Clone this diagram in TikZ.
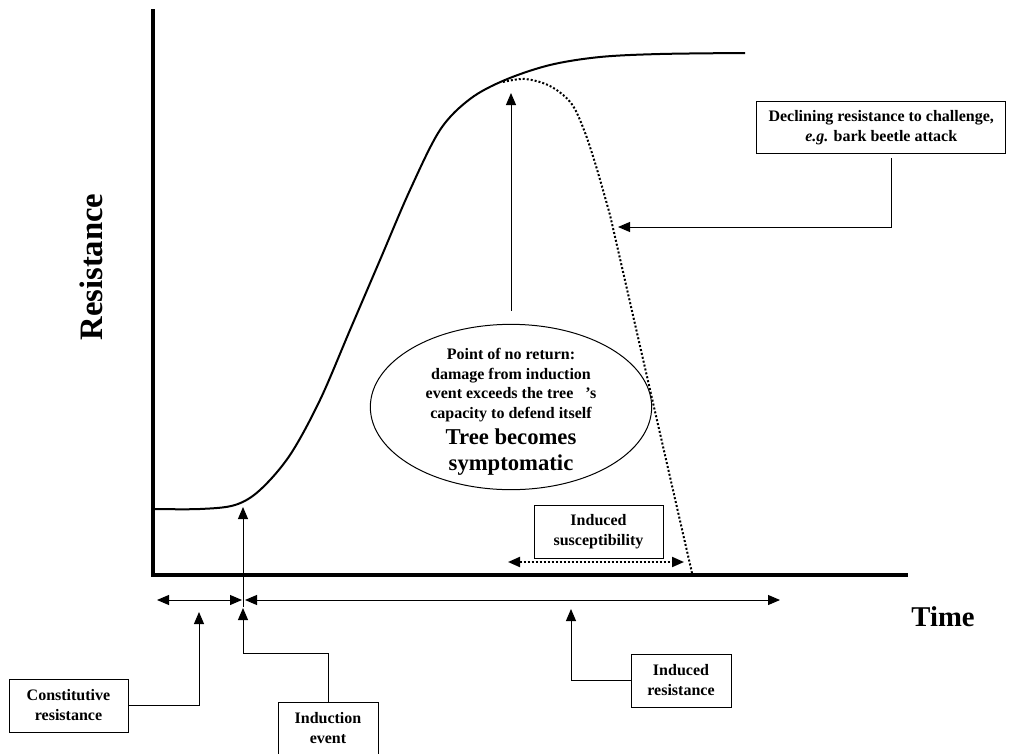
\documentclass[tikz,border=0pt]{standalone}
\usepackage{fontspec}
\setmainfont{Liberation Serif}
\usetikzlibrary{arrows.meta,shapes.geometric,calc}
\begin{document}
\begin{tikzpicture}[x=0.75pt,y=-0.75pt,
  axis/.style={line width=2.5pt,line join=miter},
  thinline/.style={line width=0.75pt},
  tipend/.style={-{Triangle[length=9pt,width=7.5pt]}},
  dbl/.style={{Triangle[length=9pt,width=7.5pt]}-{Triangle[length=9pt,width=7.5pt]}},
  boxstyle/.style={draw,line width=0.75pt,align=center,inner sep=0pt,
    font=\bfseries\fontsize{12}{15}\selectfont},
  txt/.style={align=center,inner sep=0pt,font=\bfseries\fontsize{12}{15}\selectfont},
  curvestyle/.style={line width=1.5pt},
  dotstyle/.style={line width=1.5pt,dash pattern=on 1.5pt off 1.5pt},
  ]
\useasboundingbox (0,0) rectangle (1024,753);

% axes
\coordinate (Ytop) at (153,9);
\coordinate (O) at (153,575);
\coordinate (Xend) at (908,575);
\draw[axis] (Ytop) -- (O) -- (Xend);

\node[rotate=90,inner sep=0pt,font=\bfseries\fontsize{24.5}{28}\selectfont] (ylab) at (91,267) {Resistance};
\node[inner sep=0pt,font=\bfseries\fontsize{21.5}{26}\selectfont] (xlab) at (943,617) {Time};

% resistance curve
\draw[curvestyle] plot[smooth,tension=0.55] coordinates {(155,509) (200,509) (235,505) (260,490) (290,455) (320,400) (350,330) (380,260) (410,190) (440,130) (470,99) (505,80) (550,65) (600,57) (660,54) (745,53)};

% declining dotted curve
\draw[dotstyle] plot[smooth,tension=0.55] coordinates {(503,82) (525,79) (550,86) (571,103) (584,130) (596,166) (610,215)} -- (692,573);

% ellipse
\node[draw,thinline,ellipse,minimum width=211pt,minimum height=124pt,inner sep=0pt] (ell) at (511,407) {};
\node[txt,font=\bfseries\fontsize{12}{14.6}\selectfont] (elltxt1) at (511,385) {Point of no return:\\damage from induction\\event exceeds the tree\hspace{9pt}’s\\capacity to defend itself};
\node[txt,font=\bfseries\fontsize{17}{19}\selectfont] (elltxt2) at (511,452) {Tree becomes\\symptomatic};
\coordinate (ptop) at (511,93);
\coordinate (ellup) at ($(ell.north)+(0,-13)$);
\draw[thinline,tipend] (ellup) -- (ptop);

% declining box
\node[boxstyle,anchor=north west,minimum height=39pt,inner xsep=9pt] (decl) at (756,101) {Declining resistance to challenge,\\\textit{e.g.} bark beetle attack};
\coordinate (declS) at (891,158);
\coordinate (declTip) at (618,227);
\draw[thinline,tipend] (declS) |- (declTip);

% induced susceptibility
\node[boxstyle,minimum width=96.75pt,minimum height=39.75pt] (susc) at (598.5,531.5) {Induced\\susceptibility};
\coordinate (sL) at (508,562);
\coordinate (sR) at (684,562);
\draw[dotstyle,dbl] (sL) -- (sR);

% timeline
\coordinate (t0) at (157,600);
\coordinate (t1) at (242,600);
\coordinate (t1b) at (245,600);
\coordinate (t2) at (780,600);
\draw[thinline,dbl] (t0) -- (t1);
\draw[thinline,dbl] (t1b) -- (t2);

% induction event arrow to curve
\coordinate (indBase) at (243,607);
\coordinate (indTip) at (243,507);
\draw[thinline,tipend] (indBase) -- (indTip);

% constitutive resistance
\node[boxstyle,minimum width=89.25pt,minimum height=39.75pt] (const) at (68.5,705.5) {Constitutive\\resistance};
\coordinate (constTip) at (199,612);
\draw[thinline,tipend] (const.east) -| (constTip);

% induction event box
\node[draw,thinline,anchor=north,minimum width=75pt,minimum height=60pt,inner sep=0pt] (ind) at (328,702) {};
\node[txt] (indtxt) at (328,728) {Induction\\event};
\coordinate (indBend) at (328,653);
\coordinate (indTip2) at (243,608);
\draw[thinline,tipend] (ind.north) -- (indBend) -| (indTip2);

% induced resistance
\node[boxstyle,minimum width=75pt,minimum height=39.75pt] (ires) at (681,680.5) {Induced\\resistance};
\coordinate (iresTip) at (571,609);
\draw[thinline,tipend] (ires.west) -| (iresTip);
\end{tikzpicture}
\end{document}
